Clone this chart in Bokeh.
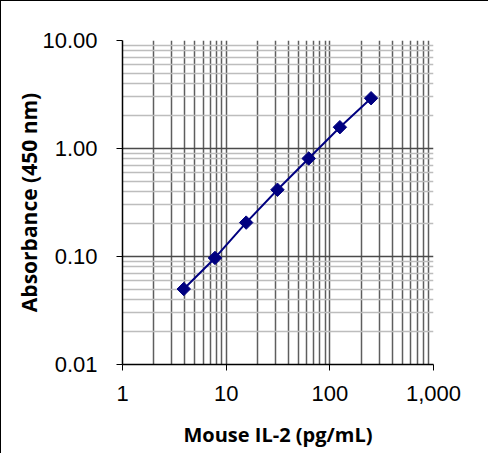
import math
from bokeh.plotting import figure
from bokeh.models import FixedTicker, Range1d
from bokeh.embed import file_html
from bokeh.resources import INLINE

# Data
concentration = [3.9, 7.8, 15.6, 31.25, 62.5, 125, 250]
absorbance = [0.050, 0.097, 0.206, 0.415, 0.808, 1.575, 2.92]

x_ticks = [1, 10, 100, 1000]
x_tick_labels = ["1", "10", "100", "1,000"]
y_ticks = [0.01, 0.1, 1, 10]
y_tick_labels = ["0.01", "0.10", "1.00", "10.00"]

x_minor = [m * d for d in [1, 10, 100] for m in range(2, 10)]
y_minor = [m * d for d in [0.01, 0.1, 1] for m in range(2, 10)]

p = figure(width=488, height=453, x_axis_type="log", y_axis_type="log",
           x_range=Range1d(1, 1000), y_range=Range1d(0.01, 10),
           output_backend="svg", toolbar_location=None,
           min_border_left=121, min_border_top=39,
           min_border_right=56, min_border_bottom=90)
p.styles = {"border-left": "1px solid #000", "border-top": "1px solid #000"}
p.outline_line_color = None
p.background_fill_color = "white"

p.xaxis.ticker = FixedTicker(ticks=x_ticks, minor_ticks=x_minor)
p.yaxis.ticker = FixedTicker(ticks=y_ticks, minor_ticks=y_minor)
p.xaxis.major_label_overrides = {t: l for t, l in zip(x_ticks, x_tick_labels)}
p.yaxis.major_label_overrides = {t: l for t, l in zip(y_ticks, y_tick_labels)}

for ax in (p.xaxis, p.yaxis):
    ax.major_label_text_font = "Liberation Sans"
    ax.major_label_text_font_size = "22px"
    ax.major_label_text_color = "#000000"
    ax.axis_label_text_font = "Open Sans"
    ax.axis_label_text_font_style = "bold"
    ax.axis_label_text_color = "#000000"
    ax.axis_line_color = "#000000"
    ax.axis_line_width = 1.5
    ax.major_tick_line_color = "#000000"
    ax.major_tick_out = 6
    ax.major_tick_in = 0
    ax.minor_tick_line_color = None

p.xaxis.axis_label = "Mouse IL-2 (pg/mL)"
p.yaxis.axis_label = "Absorbance (450 nm)"
p.xaxis.axis_label_text_font_size = "20px"
p.yaxis.axis_label_text_font_size = "21px"
p.xaxis.major_label_standoff = 15
p.xaxis.axis_label_standoff = 17
p.yaxis.major_label_standoff = 19
p.yaxis.axis_label_standoff = -4

p.xgrid.grid_line_color = "#5a5a5a"
p.xgrid.grid_line_width = 1.5
p.xgrid.minor_grid_line_color = "#5e5e5e"
p.xgrid.minor_grid_line_width = 1.5
p.ygrid.grid_line_color = "#4a4a4a"
p.ygrid.grid_line_width = 1.5
p.ygrid.minor_grid_line_color = "#bdbdbd"
p.ygrid.minor_grid_line_width = 1.5

p.line(concentration, absorbance, line_color="#000080", line_width=2)
p.scatter(concentration, absorbance, marker="square", size=9.5, angle=math.pi / 4,
          fill_color="#000080", line_color="#000080")

open("out.html", "w").write(file_html(p, INLINE))
